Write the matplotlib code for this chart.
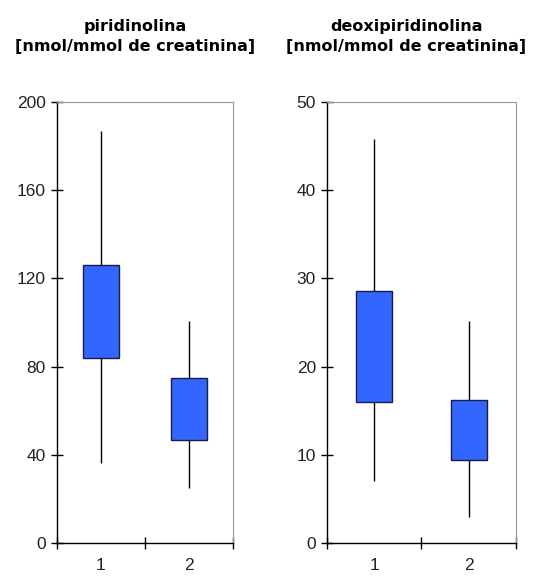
import matplotlib.pyplot as plt

plt.rcParams['font.family'] = ['Liberation Sans', 'DejaVu Sans']

groups = ['1', '2']

# piridinolina
pyd_q1 = [84, 46.5]
pyd_q3 = [126, 75]
pyd_lo = [36.5, 25]
pyd_hi = [187, 100.5]

# deoxipiridinolina
dpd_q1 = [16.0, 9.4]
dpd_q3 = [28.6, 16.2]
dpd_lo = [7.0, 2.9]
dpd_hi = [45.8, 25.2]

titles = ['piridinolina\n[nmol/mmol de creatinina]',
          'deoxipiridinolina\n[nmol/mmol de creatinina]']

fig = plt.figure(figsize=(5.35, 5.77), dpi=100)
ax1 = fig.add_axes([0.1065, 0.0589, 0.329, 0.7643])
ax2 = fig.add_axes([0.6112, 0.0589, 0.3533, 0.7643])


def draw(ax, q1, q3, lo, hi, ymax, step, width):
    xs = [0.5, 1.5]
    ax.vlines(xs, lo, hi, color='black', lw=1.0, zorder=1)
    ax.bar(xs, [b - a for a, b in zip(q1, q3)], bottom=q1, width=width,
           color='#3366ff', edgecolor='#1a1a4d', lw=1.0, zorder=2)
    ax.set_xlim(0, 2)
    ax.set_ylim(0, ymax)
    ax.set_yticks(range(0, ymax + 1, step))
    ax.set_xticks([0, 1, 2])
    ax.set_xticklabels([])
    ax.set_xticks(xs, minor=True)
    ax.set_xticklabels(groups, minor=True)
    ax.tick_params(axis='x', which='minor', length=0, pad=11, labelsize=12.5,
                   labelcolor='#222222')
    ax.tick_params(axis='both', which='major', direction='inout', length=8,
                   width=1.0, labelsize=12.5, pad=4, labelcolor='#222222')
    for s in ['top', 'right']:
        ax.spines[s].set_color('#999999')
        ax.spines[s].set_linewidth(0.8)
    for s in ['left', 'bottom']:
        ax.spines[s].set_linewidth(1.0)


draw(ax1, pyd_q1, pyd_q3, pyd_lo, pyd_hi, 200, 40, 0.40)
draw(ax2, dpd_q1, dpd_q3, dpd_lo, dpd_hi, 50, 10, 0.38)

for x, t in zip([0.253, 0.759], titles):
    fig.text(x, 0.937, t, ha='center', va='center', fontsize=11.5,
             fontweight='bold', linespacing=1.45, family='DejaVu Sans')

fig.savefig('out.png', dpi=100)
